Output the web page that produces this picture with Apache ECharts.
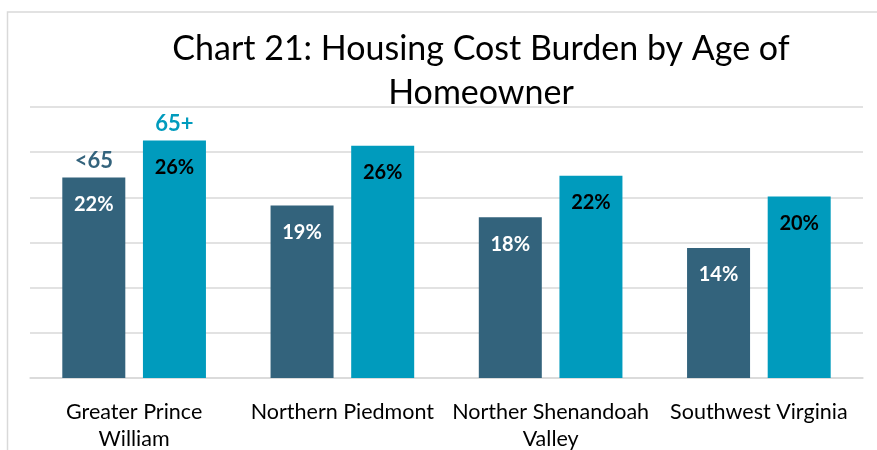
<!DOCTYPE html>
<html>
<head>
<meta charset="utf-8">
<script src="https://cdn.jsdelivr.net/npm/echarts@6/dist/echarts.min.js"></script>
<style>
  html, body { margin: 0; padding: 0; background: #fff; }
  #chart { width: 877px; height: 450px; }
</style>
</head>
<body>
<div id="chart"></div>
<script>
// values (percent)
const regions = ['Greater Prince\nWilliam', 'Northern Piedmont', 'Norther Shenandoah\nValley', 'Southwest Virginia'];
const under65 = [22.2, 19.1, 17.8, 14.4];
const over65 = [26.3, 25.7, 22.4, 20.1];
const seriesNames = ['<65', '65+'];
const colors = ['#33637c', '#009bbd'];

const font = 'Lato, "Open Sans", sans-serif';

const chart = echarts.init(document.getElementById('chart'), null, { renderer: 'canvas' });

// series name written above the first bar of each series
function nameMark(idx, values, color) {
  return {
    symbol: 'circle',
    symbolSize: 1,
    itemStyle: { color: 'rgba(0,0,0,0)' },
    label: {
      show: true,
      position: 'top',
      distance: 5,
      formatter: seriesNames[idx],
      color: color,
      fontFamily: font,
      fontWeight: 'bold',
      fontSize: 22
    },
    data: [{ coord: [0, values[0]] }]
  };
}

function makeSeries(idx, values, labelColor) {
  return {
    name: seriesNames[idx],
    type: 'bar',
    data: values,
    barWidth: 63,
    barGap: '28%',
    itemStyle: { color: colors[idx] },
    label: {
      show: true,
      position: 'insideTop',
      distance: 17,
      formatter: p => Math.round(p.value) + '%',
      color: labelColor,
      fontFamily: font,
      fontWeight: 'bold',
      fontSize: 20
    },
    markPoint: nameMark(idx, values, colors[idx])
  };
}

chart.setOption({
  animation: false,
  backgroundColor: '#fff',
  title: {
    text: 'Chart 21: Housing Cost Burden by Age of\nHomeowner',
    left: 476,
    top: 22,
    textAlign: 'center',
    textStyle: {
      fontFamily: font,
      fontWeight: 'normal',
      fontSize: 34,
      lineHeight: 44,
      color: '#000'
    }
  },
  graphic: [{
    type: 'rect',
    silent: true,
    shape: { x: 7.5, y: 12, width: 900, height: 500 },
    style: { fill: 'none', stroke: '#d9d9d9', lineWidth: 1.5 }
  }],
  grid: { left: 30, right: 14, top: 107, bottom: 72, outerBoundsMode: 'none' },
  xAxis: {
    type: 'category',
    data: regions,
    axisLine: { lineStyle: { color: '#d9d9d9', width: 1.5 } },
    axisTick: { show: false },
    axisLabel: {
      interval: 0,
      margin: 21,
      color: '#000',
      fontFamily: font,
      fontSize: 21.5,
      lineHeight: 27
    }
  },
  yAxis: {
    type: 'value',
    min: 0,
    max: 30,
    interval: 5,
    axisLabel: { show: false },
    axisLine: { show: false },
    axisTick: { show: false },
    splitLine: { lineStyle: { color: '#d9d9d9', width: 1.5 } }
  },
  series: [
    makeSeries(0, under65, '#fff'),
    makeSeries(1, over65, '#000')
  ]
});
</script>
</body>
</html>
